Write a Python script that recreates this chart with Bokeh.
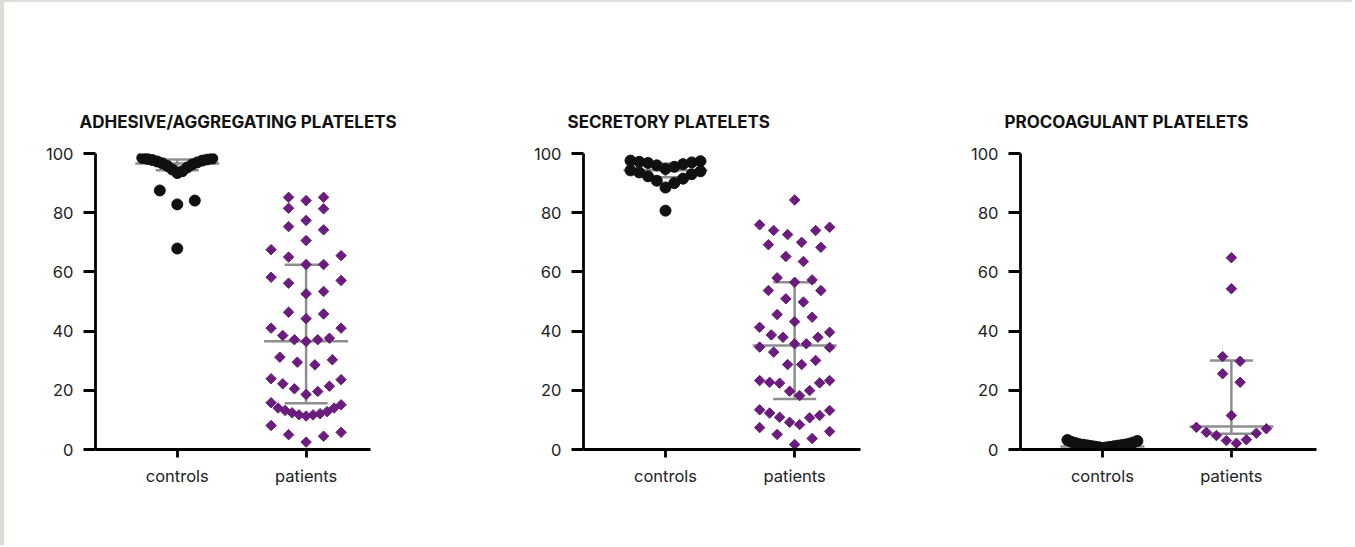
import numpy as np
from bokeh.plotting import figure
from bokeh.layouts import row
from bokeh.models import Range1d, FixedTicker
from bokeh.embed import file_html
from bokeh.resources import INLINE

# ---- data -------------------------------------------------------------
groups = ["controls", "patients"]
y_ticks = [0, 20, 40, 60, 80, 100]
titles = ["ADHESIVE/AGGREGATING PLATELETS", "SECRETORY PLATELETS", "PROCOAGULANT PLATELETS"]

adhesive_controls = [98.5, 98.3, 98.2, 98.0, 97.8, 97.6, 97.3, 97.0, 96.7, 96.3,
                     95.8, 95.3, 94.6, 94.0, 93.4, 87.5, 84.1, 82.8, 67.9]
adhesive_patients = [85.2, 84.1, 85.2, 81.3, 81.5, 77.4, 75.3, 74.2, 70.6, 67.5,
                     65.5, 65.0, 62.5, 62.5, 58.2, 57.1, 56.2, 53.4, 52.6, 46.4,
                     45.8, 44.2, 41.0, 41.0, 38.5, 37.6, 37.1, 37.1, 36.5, 31.2,
                     30.3, 29.5, 28.6, 23.9, 23.6, 22.2, 21.4, 20.5, 19.6, 18.6,
                     15.8, 15.1, 14.0, 14.0, 13.2, 12.8, 12.4, 12.1, 11.7, 11.7,
                     11.3, 8.1, 5.8, 5.0, 4.5, 2.5]
adhesive_median = [96.6, 36.6]
adhesive_q1 = [94.3, 15.6]
adhesive_q3 = [98.0, 62.4]

secretory_controls = [97.6, 97.4, 97.2, 97.0, 96.8, 96.4, 96.0, 95.5, 94.8, 94.3,
                      94.0, 93.6, 93.0, 92.3, 91.5, 90.8, 90.0, 88.5, 80.7]
secretory_patients = [84.3, 75.9, 75.1, 74.0, 74.0, 72.6, 70.0, 69.2, 68.3, 65.2,
                      63.5, 58.0, 57.3, 56.5, 53.7, 53.7, 50.9, 49.8, 45.6, 44.7,
                      43.2, 41.3, 39.6, 38.7, 37.9, 37.9, 35.7, 35.7, 34.6, 34.5,
                      32.9, 30.1, 28.7, 28.7, 23.3, 23.3, 22.7, 22.5, 22.4, 19.9,
                      19.7, 18.2, 13.4, 13.2, 12.3, 11.5, 10.9, 10.7, 9.2, 8.4,
                      7.4, 6.1, 5.1, 3.7, 1.7]
secretory_median = [94.3, 35.1]
secretory_q1 = [92.0, 17.1]
secretory_q3 = [96.6, 56.5]

procoagulant_controls = [0.5, 0.7, 0.8, 0.9, 1.0, 1.1, 1.2, 1.3, 1.4, 1.5,
                         1.6, 1.7, 1.8, 2.0, 2.2, 2.4, 2.6, 2.9, 3.2]
procoagulant_patients = [64.8, 54.3, 31.4, 29.8, 25.6, 22.7, 11.5, 7.5, 7.0, 5.8,
                         5.5, 4.7, 3.3, 3.0, 2.1]
procoagulant_median = [1.0, 7.8]
procoagulant_q1 = [0.6, 5.3]
procoagulant_q3 = [2.0, 30.1]

# ---- styling ----------------------------------------------------------
PX_PER_CAT = 129.0          # screen pixels between the two category centres
X_START = 0.365
FRAME_H = 296
PURPLE = "#6a1d7c"
DOT = "#101010"
BAR = "#8e8e8e"
FONT = "Inter"


def swarm_offsets(values, row_span=6.0, max_step=17.5, max_width=70.0):
    """Row-binned dot layout: values within `row_span` share a row, the smallest
    sits in the middle and the rest alternate right / left outward (pixels)."""
    vals = np.asarray(values, dtype=float)
    order = np.argsort(vals, kind="stable")
    sv = vals[order]
    offs = np.zeros(len(sv))
    i = 0
    while i < len(sv):
        j = i
        while j < len(sv) and sv[j] <= sv[i] + row_span + 1e-9:
            j += 1
        n = j - i
        step = max_step if n < 2 else min(max_step, max_width / (n - 1))
        for k in range(n):
            if n % 2:
                m = (k + 1) // 2
                pos = 0 if k == 0 else (m if k % 2 == 1 else -m)
            else:
                m = k // 2 + 0.5
                pos = m if k % 2 == 0 else -m
            offs[i + k] = pos * step
        i = j
    out = np.empty(len(sv))
    out[order] = offs
    return out


def make_panel(title, controls, patients, median, q1, q3, x_end,
               border_left, border_right):
    frame_w = int(round((x_end - X_START) * PX_PER_CAT))
    px_unit = frame_w / (x_end - X_START)
    p = figure(frame_width=frame_w, frame_height=FRAME_H,
               x_range=Range1d(X_START, x_end), y_range=Range1d(0, 100),
               min_border_left=border_left, min_border_right=border_right,
               min_border_top=151, min_border_bottom=96,
               output_backend="svg", toolbar_location=None,
               background_fill_color="white", border_fill_color="white")
    p.outline_line_color = None
    p.grid.visible = False

    p.title.text = title
    p.title.align = "left"
    p.title.offset = -16
    p.title.standoff = 43
    p.title.text_font = "Inter"
    p.title.text_font_style = "bold"
    p.title.text_font_size = "17px"
    p.title.text_color = "#111111"

    # median line, quartile caps and connecting bar for each group
    centers = [1.0, 2.0]
    wide = 42.0 / px_unit
    narrow = 21.5 / px_unit
    x0, x1, y0, y1 = [], [], [], []
    for c, m, lo, hi in zip(centers, median, q1, q3):
        x0 += [c - wide, c - narrow, c - narrow, c]
        x1 += [c + wide, c + narrow, c + narrow, c]
        y0 += [m, lo, hi, lo]
        y1 += [m, lo, hi, hi]
    p.segment(x0=x0, y0=y0, x1=x1, y1=y1, line_color=BAR, line_width=2.5)

    cx = 1.0 + swarm_offsets(controls) / px_unit
    p.scatter(cx, controls, marker="circle", size=11,
              fill_color=DOT, line_color=DOT)
    px = 2.0 + swarm_offsets(patients) / px_unit
    p.scatter(px, patients, marker="square", angle=np.pi / 4, size=7.4,
              fill_color=PURPLE, line_color=PURPLE)

    for ax in (p.xaxis[0], p.yaxis[0]):
        ax.axis_line_width = 2.8
        ax.axis_line_color = "#000000"
        ax.major_tick_line_width = 2.8
        ax.major_tick_line_color = "#000000"
        ax.minor_tick_line_color = None
        ax.major_tick_in = 0
        ax.major_label_text_font = FONT
        ax.major_label_text_font_size = "16.5px"
        ax.major_label_text_color = "#222222"

    p.yaxis.ticker = FixedTicker(ticks=y_ticks)
    p.yaxis.major_tick_out = 12
    p.yaxis.major_label_standoff = 10

    p.xaxis.ticker = FixedTicker(ticks=[1, 2])
    p.xaxis.major_label_overrides = {1: groups[0], 2: groups[1]}
    p.xaxis.major_tick_out = 8
    p.xaxis.major_label_standoff = 8
    return p


p1 = make_panel(titles[0], adhesive_controls, adhesive_patients,
                adhesive_median, adhesive_q1, adhesive_q3, 2.50, 91, 30)
p2 = make_panel(titles[1], secretory_controls, secretory_patients,
                secretory_median, secretory_q1, secretory_q3, 2.51, 183, 30)
p3 = make_panel(titles[2], procoagulant_controls, procoagulant_patients,
                procoagulant_median, procoagulant_q1, procoagulant_q3, 2.66, 130, 36)

p = row(p1, p2, p3, styles={"border-top": "2px solid #dfdbd6",
                            "border-left": "4px solid #dfdbd6"})

open("out.html", "w").write(file_html(p, INLINE))
